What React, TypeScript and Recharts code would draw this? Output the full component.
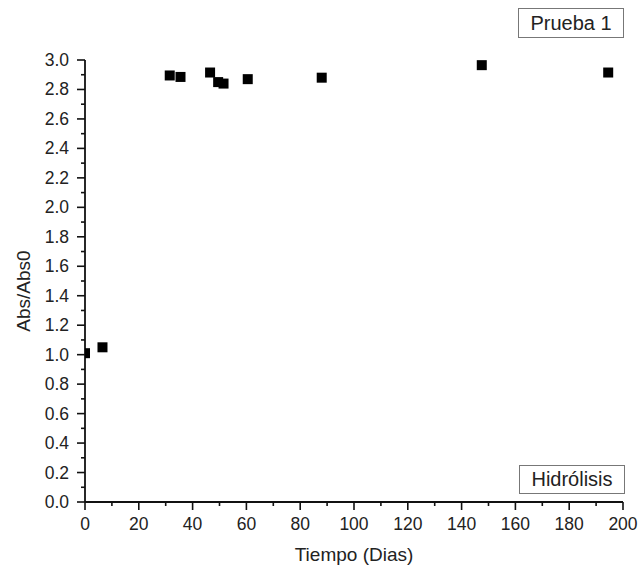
import React from "react";
import { ScatterChart, Scatter, XAxis, YAxis, Label } from "recharts";

// Days elapsed and normalised absorbance (Abs/Abs0)
const dias = [0, 6.5, 31.5, 35.5, 46.5, 49.5, 51.5, 60.5, 88, 147.5, 194.5];
const absRel = [1.01, 1.05, 2.895, 2.885, 2.915, 2.85, 2.84, 2.87, 2.88, 2.965, 2.915];

const xTicks = [0, 10, 20, 30, 40, 50, 60, 70, 80, 90, 100, 110, 120, 130, 140, 150, 160, 170, 180, 190, 200];
const yTicks = [0, 0.1, 0.2, 0.3, 0.4, 0.5, 0.6, 0.7, 0.8, 0.9, 1.0, 1.1, 1.2, 1.3, 1.4, 1.5, 1.6, 1.7, 1.8, 1.9, 2.0, 2.1, 2.2, 2.3, 2.4, 2.5, 2.6, 2.7, 2.8, 2.9, 3.0];

const data = dias.map((d, i) => ({ dia: d, abs: absRel[i] }));

const FONT = "'Liberation Sans', Arial, sans-serif";
const TEXT = "#222";

const YTick = (props: any) => {
  const { x, y, payload } = props;
  const v = payload.value as number;
  const major = Math.round(v * 10) % 2 === 0;
  return (
    <g>
      <line x1={x - (major ? 8 : 4)} x2={x} y1={y} y2={y} stroke="#111" strokeWidth={1.6} />
      {major && (
        <text x={x - 16} y={y} textAnchor="end" dominantBaseline="central" fontSize={17.5} fontFamily={FONT} fill={TEXT}>
          {v.toFixed(1)}
        </text>
      )}
    </g>
  );
};

const XTick = (props: any) => {
  const { x, y, payload } = props;
  const v = payload.value as number;
  const major = Math.round(v) % 20 === 0;
  return (
    <g>
      <line x1={x} x2={x} y1={y} y2={y + (major ? 8 : 4)} stroke="#111" strokeWidth={1.6} />
      {major && (
        <text x={x} y={y + 28} textAnchor="middle" fontSize={17.5} fontFamily={FONT} fill={TEXT}>
          {v}
        </text>
      )}
    </g>
  );
};

const SquareMark = (props: any) => {
  const { cx, cy } = props;
  return <rect x={cx - 5} y={cy - 5} width={10} height={10} fill="#000" />;
};

const boxStyle: React.CSSProperties = {
  position: "absolute",
  border: "1px solid #777",
  background: "#fff",
  fontFamily: FONT,
  fontSize: 20,
  color: TEXT,
  display: "flex",
  alignItems: "center",
  justifyContent: "center",
  boxSizing: "border-box",
};

export default function App() {
  return (
    <div style={{ position: "absolute", left: 0, top: 0, width: 639, height: 569, background: "#fff" }}>
      <ScatterChart width={639} height={569} margin={{ top: 60, right: 16, bottom: 0, left: 0 }}>
        <XAxis
          type="number"
          dataKey="dia"
          domain={[0, 200]}
          ticks={xTicks}
          interval={0}
          allowDataOverflow
          height={67}
          tickSize={0}
          tickMargin={0}
          tickLine={false}
          tick={<XTick />}
          axisLine={{ stroke: "#111", strokeWidth: 1.8 }}
        >
          <Label
            content={(p: any) => {
              const vb = p.viewBox;
              return (
                <text x={vb.x + vb.width / 2} y={vb.y + 59} textAnchor="middle" fontSize={19} fontFamily={FONT} fill={TEXT}>
                  Tiempo (Dias)
                </text>
              );
            }}
          />
        </XAxis>
        <YAxis
          type="number"
          dataKey="abs"
          domain={[0, 3]}
          ticks={yTicks}
          interval={0}
          width={85}
          tickSize={0}
          tickMargin={0}
          tickLine={false}
          tick={<YTick />}
          axisLine={{ stroke: "#111", strokeWidth: 1.8 }}
        >
          <Label
            content={(p: any) => {
              const vb = p.viewBox;
              const cx = vb.x + 23;
              const cy = vb.y + vb.height / 2 + 10;
              return (
                <text x={cx} y={cy} transform={`rotate(-90, ${cx}, ${cy})`} textAnchor="middle" dominantBaseline="central" fontSize={19} fontFamily={FONT} fill={TEXT}>
                  Abs/Abs0
                </text>
              );
            }}
          />
        </YAxis>
        <Scatter data={data} shape={<SquareMark />} isAnimationActive={false} />
      </ScatterChart>
      <div style={{ ...boxStyle, left: 518, top: 8, width: 106, height: 30 }}>Prueba 1</div>
      <div style={{ ...boxStyle, left: 519, top: 465, width: 106, height: 29 }}>Hidrólisis</div>
    </div>
  );
}
